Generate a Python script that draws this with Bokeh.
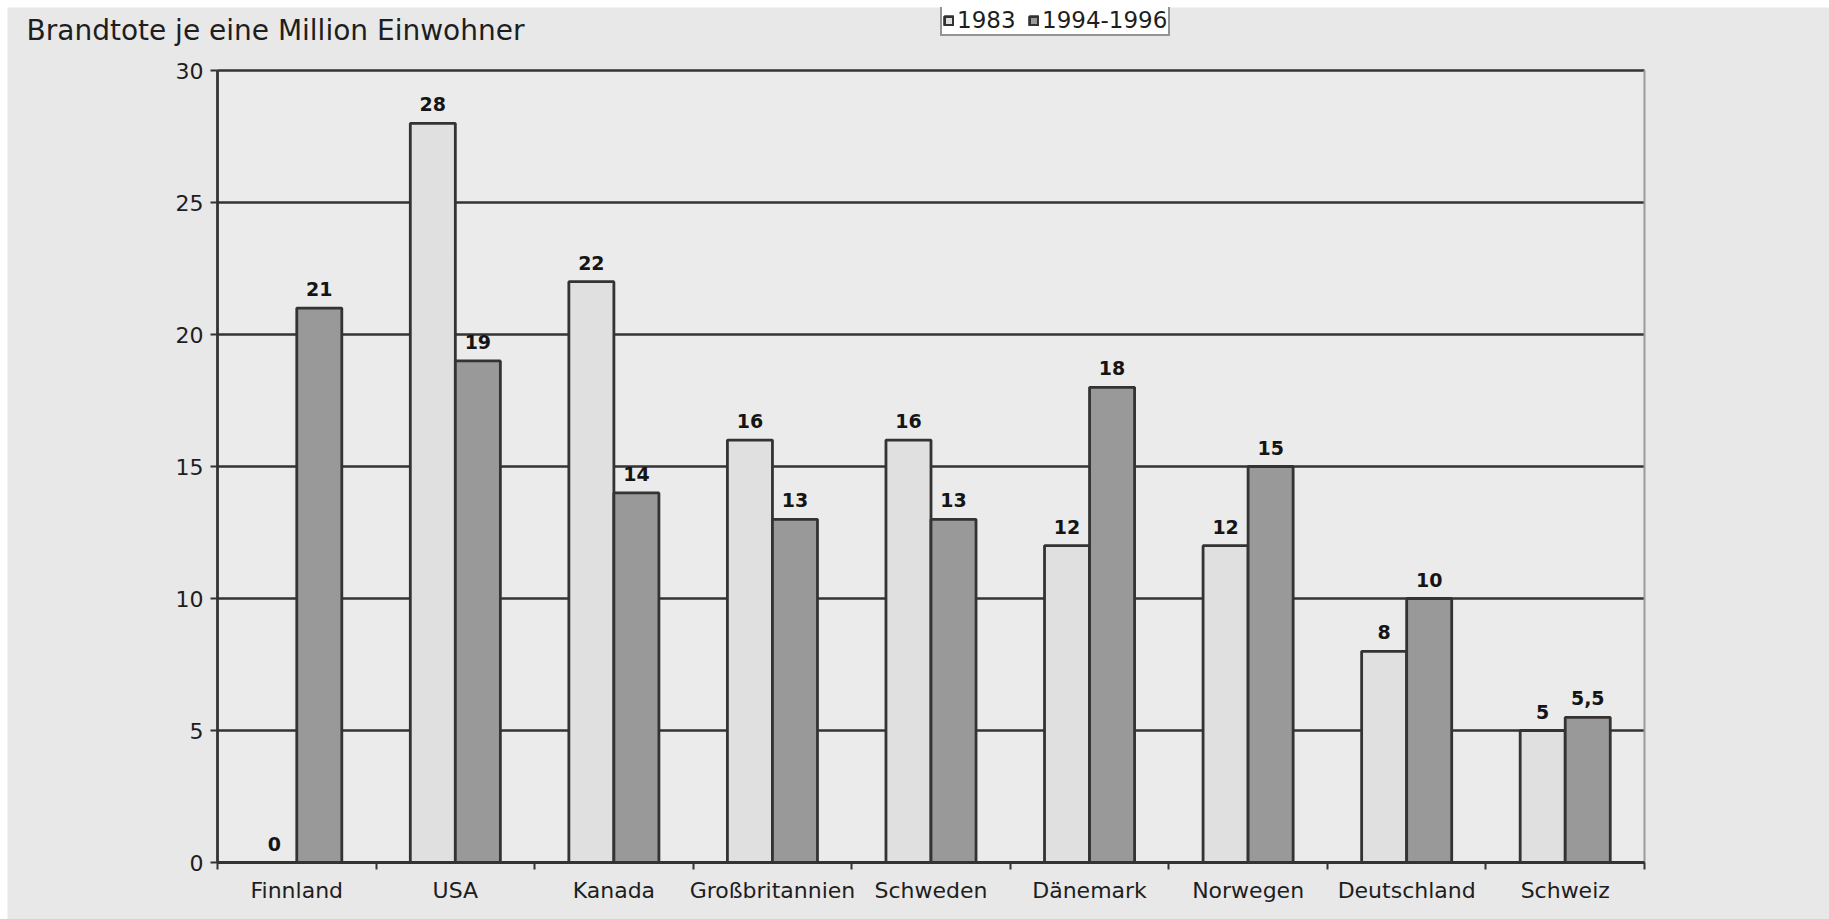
from bokeh.plotting import figure
from bokeh.models import (Range1d, FixedTicker, Legend, LegendItem, Label, BoxAnnotation,
                          Spacer, ColumnDataSource)
from bokeh.layouts import column, row
from bokeh.core.properties import value
from bokeh.embed import file_html
from bokeh.resources import INLINE

# ---- data ----
categories = ["Finnland", "USA", "Kanada", "Großbritannien", "Schweden",
              "Dänemark", "Norwegen", "Deutschland", "Schweiz"]
series_names = ["1983", "1994-1996"]
values_1983 = [0, 28, 22, 16, 16, 12, 12, 8, 5]
values_1994_1996 = [21, 19, 14, 13, 13, 18, 15, 10, 5.5]
y_ticks = [0, 5, 10, 15, 20, 25, 30]
title_text = "Brandtote je eine Million Einwohner"

# ---- style / layout (pixels) ----
FONT = "DejaVu Sans"
BAR_W = 0.284
LIGHT = "#e0e0e0"
DARK = "#999999"
EDGE = "#333333"
GRID = "#333333"
OUTER_BG = "#e8e8e8"
INNER_BG = "#ebebeb"
FIG_W, FIG_H = 1822, 912
M_LEFT, M_RIGHT, M_TOP, M_BOTTOM = 210, 185, 63, 57

def fmt(v):
    return f"{v:g}".replace(".", ",")

n = len(categories)
idx = list(range(n))
y_max = y_ticks[-1]
x_light = [i + 0.5 - BAR_W / 2 for i in idx]
x_dark = [i + 0.5 + BAR_W / 2 for i in idx]

# data ranges extended so that the plot area sits at the wanted margins
px_per_x = (FIG_W - M_LEFT - M_RIGHT) / n
px_per_y = (FIG_H - M_TOP - M_BOTTOM) / y_max
x_range = Range1d(-M_LEFT / px_per_x, n + M_RIGHT / px_per_x)
y_range = Range1d(-M_BOTTOM / px_per_y, y_max + M_TOP / px_per_y)

p = figure(width=FIG_W, height=FIG_H, output_backend="svg", toolbar_location=None,
           x_range=x_range, y_range=y_range,
           min_border=0, min_border_left=0, min_border_right=0,
           min_border_top=0, min_border_bottom=0)
p.title.visible = False
p.background_fill_color = OUTER_BG
p.border_fill_color = OUTER_BG
p.outline_line_color = None
p.xgrid.visible = False
p.ygrid.visible = False

# plot area background
p.add_layout(BoxAnnotation(left=0, right=n, bottom=0, top=y_max, fill_color=INNER_BG,
                           fill_alpha=1.0, line_color=None, level="underlay"))

# horizontal grid lines
p.segment(x0=[0] * len(y_ticks), x1=[n] * len(y_ticks), y0=y_ticks, y1=y_ticks,
          line_color=GRID, line_width=2.7)
# right border of the plot area
p.segment(x0=[n], x1=[n], y0=[0], y1=[y_max], line_color="#9a9a9a", line_width=2)

src1 = ColumnDataSource(dict(x=x_light, top=values_1983, lab=[fmt(v) for v in values_1983]))
src2 = ColumnDataSource(dict(x=x_dark, top=values_1994_1996, lab=[fmt(v) for v in values_1994_1996]))

r1 = p.vbar(x="x", top="top", bottom=0, width=BAR_W, source=src1,
            fill_color=LIGHT, line_color=EDGE, line_width=2.8)
r2 = p.vbar(x="x", top="top", bottom=0, width=BAR_W, source=src2,
            fill_color=DARK, line_color=EDGE, line_width=2.8)

for s in (src1, src2):
    p.text(x="x", y="top", text="lab", source=s, text_align="center", text_baseline="bottom",
           y_offset=-12, text_font=value(FONT), text_font_style="bold",
           text_font_size="19px", text_color="#151515")

# x axis at y = 0
xa = p.xaxis[0]
xa.fixed_location = 0
xa.bounds = (0, n)
xa.ticker = FixedTicker(ticks=[i + 0.5 for i in idx], minor_ticks=list(range(n + 1)))
xa.major_label_overrides = {i + 0.5: c for i, c in zip(idx, categories)}
xa.major_tick_out = 0
xa.major_tick_in = 0
xa.minor_tick_out = 7
xa.minor_tick_in = 0
xa.minor_tick_line_color = EDGE
xa.minor_tick_line_width = 2
xa.axis_line_color = EDGE
xa.axis_line_width = 2.8
xa.major_label_standoff = 8
xa.major_label_text_font = FONT
xa.major_label_text_font_size = "22px"
xa.major_label_text_color = "#1e1e1e"

# y axis at x = 0
ya = p.yaxis[0]
ya.fixed_location = 0
ya.bounds = (0, y_max)
ya.ticker = FixedTicker(ticks=y_ticks)
ya.major_tick_out = 7
ya.major_tick_in = 0
ya.minor_tick_out = 0
ya.minor_tick_in = 0
ya.major_tick_line_color = EDGE
ya.major_tick_line_width = 2
ya.axis_line_color = EDGE
ya.axis_line_width = 2.8
ya.major_label_standoff = 7
ya.major_label_text_font = FONT
ya.major_label_text_font_size = "22px"
ya.major_label_text_color = "#1e1e1e"

# title
p.add_layout(Label(x=19, y=FIG_H - 23, x_units="screen", y_units="screen", text=title_text,
                   text_font=FONT, text_font_size="28px", text_color="#1e1e1e",
                   text_baseline="middle", text_align="left"))

legend = Legend(items=[LegendItem(label=series_names[0], renderers=[r1]),
                       LegendItem(label=series_names[1], renderers=[r2])],
                orientation="horizontal", location=(933, FIG_H - 29),
                glyph_width=11, glyph_height=11, label_standoff=3, spacing=5,
                padding=1, margin=0, label_height=18, label_width=66,
                label_text_font=FONT, label_text_font_size="23px", label_text_color="#1e1e1e",
                border_line_color="#2a2a2a", border_line_width=2,
                background_fill_color="#ffffff", background_fill_alpha=1.0)
p.add_layout(legend, "center")

layout = column(Spacer(height=7), row(Spacer(width=7), p))
open("out.html", "w").write(file_html(layout, INLINE))
